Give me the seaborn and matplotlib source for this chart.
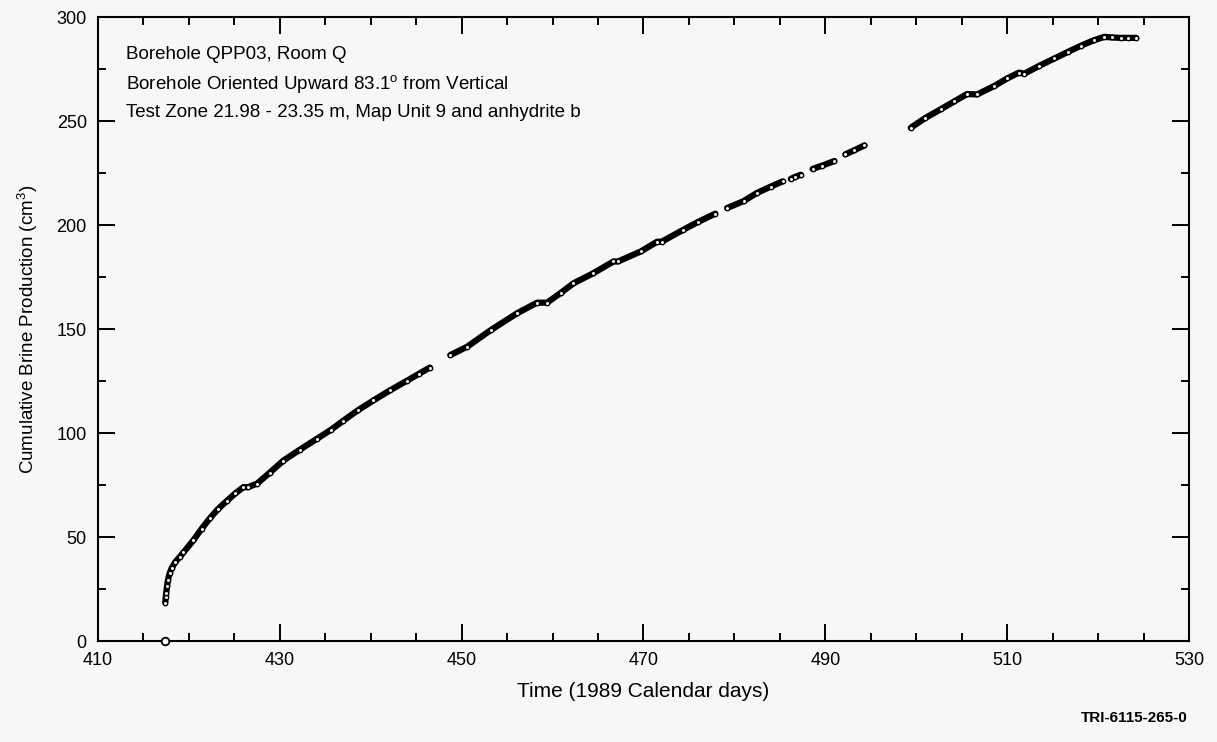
import numpy as np
import pandas as pd
import matplotlib
matplotlib.use("Agg")
import matplotlib.pyplot as plt
import seaborn as sns
from matplotlib.ticker import MultipleLocator

# Cumulative brine production, borehole QPP03 (day of 1989, cm^3), one list per logged run
seg1_day = [417.4, 417.45, 417.5, 417.6, 417.7, 417.9, 418.1, 418.5, 419.0, 419.4, 420.5, 421.4,
            422.3, 423.2, 424.2, 425.1, 426.0, 426.5, 427.5, 428.9, 430.4, 432.2, 434.1, 435.6,
            437.0, 438.6, 440.3, 442.1, 444.0, 445.3, 446.5]
seg1_cm3 = [18.5, 21.0, 23.0, 26.5, 29.5, 32.8, 35.0, 38.0, 40.5, 42.6, 48.5, 54.0,
            59.0, 63.5, 67.5, 71.0, 74.0, 74.0, 75.7, 81.0, 86.8, 92.0, 97.3, 101.5,
            106.0, 111.0, 115.7, 120.5, 125.2, 128.5, 131.5]

seg2_day = [448.75, 450.6, 453.2, 456.1, 458.3, 459.4, 460.9, 462.3, 464.5, 466.7, 467.2,
            469.7, 471.5, 472.0, 474.4, 476.0, 477.9]
seg2_cm3 = [137.5, 141.5, 149.5, 157.6, 162.7, 162.7, 167.4, 172.0, 176.9, 182.5, 182.5,
            187.3, 192.0, 192.0, 197.8, 201.5, 205.5]

seg3_day = [479.2, 481.0, 482.5, 484.0, 485.3]
seg3_cm3 = [208.2, 211.5, 215.5, 218.5, 221.0]

seg4_day = [486.2, 486.7, 487.3]
seg4_cm3 = [222.2, 223.2, 224.2]

seg5_day = [488.6, 489.6, 491.0]
seg5_cm3 = [227.0, 228.5, 230.8]

seg6_day = [492.2, 493.2, 494.3]
seg6_cm3 = [234.0, 236.0, 238.3]

seg7_day = [499.4, 501.0, 502.7, 504.2, 505.6, 506.7, 508.6, 510.0, 511.3, 511.9, 513.5,
            515.2, 516.7, 518.1, 519.5, 520.7, 521.5, 522.5, 523.3, 524.2]
seg7_cm3 = [246.8, 251.5, 255.7, 259.5, 263.0, 262.8, 266.9, 270.5, 273.3, 272.8, 276.5,
            280.1, 283.3, 286.2, 288.8, 290.5, 290.2, 290.0, 290.0, 290.0]

start_day = [417.4]
start_cm3 = [0.0]

x_ticks = [410, 430, 450, 470, 490, 510, 530]
y_ticks = [0, 50, 100, 150, 200, 250, 300]

runs = [(seg1_day, seg1_cm3), (seg2_day, seg2_cm3), (seg3_day, seg3_cm3), (seg4_day, seg4_cm3),
        (seg5_day, seg5_cm3), (seg6_day, seg6_cm3), (seg7_day, seg7_cm3)]
df = pd.concat(
    [pd.DataFrame({"day": d, "cm3": v, "run": i}) for i, (d, v) in enumerate(runs)],
    ignore_index=True,
)
df0 = pd.DataFrame({"day": start_day, "cm3": start_cm3})

sns.set_style("ticks")
plt.rcParams["font.family"] = ["Liberation Sans", "DejaVu Sans"]
plt.rcParams["mathtext.fontset"] = "custom"
plt.rcParams["mathtext.rm"] = "Liberation Sans"
plt.rcParams["mathtext.it"] = "Liberation Sans:italic"
plt.rcParams["text.color"] = "black"
plt.rcParams["axes.labelcolor"] = "black"

bg = "#f7f7f7"
fig = plt.figure(figsize=(12.17, 7.42), dpi=100, facecolor=bg)
ax = fig.add_axes([0.0805, 0.136, 0.8965, 0.841], facecolor=bg)

sns.lineplot(data=df, x="day", y="cm3", units="run", estimator=None, sort=False,
             color="black", linewidth=4.5, solid_capstyle="round", solid_joinstyle="round",
             ax=ax, legend=False)
sns.scatterplot(data=df, x="day", y="cm3", marker="o", s=10, facecolor="white",
                edgecolor="black", linewidth=1.0, ax=ax, legend=False, zorder=3)
sns.scatterplot(data=df0, x="day", y="cm3", marker="o", s=30, facecolor="white",
                edgecolor="black", linewidth=1.3, ax=ax, legend=False, zorder=3,
                clip_on=False)

ax.set_xlim(410, 530)
ax.set_ylim(0, 300)
ax.set_xticks(x_ticks)
ax.set_yticks(y_ticks)
ax.xaxis.set_minor_locator(MultipleLocator(5))
ax.yaxis.set_minor_locator(MultipleLocator(25))
ax.tick_params(which="both", direction="in", top=True, right=True, width=1.4,
               color="black", labelsize=13, labelcolor="black")
ax.tick_params(which="major", length=12, pad=8)
ax.tick_params(which="minor", length=6)
for s in ax.spines.values():
    s.set_visible(True)
    s.set_linewidth(1.5)
    s.set_color("black")

ax.set_xlabel("Time (1989 Calendar days)", fontsize=15, labelpad=9)
ax.set_ylabel("Cumulative Brine Production (cm$^3$)", fontsize=13.5, labelpad=12)

notes = [
    "Borehole QPP03, Room Q",
    "Borehole Oriented Upward 83.1$^\\mathrm{o}$ from Vertical",
    "Test Zone 21.98 - 23.35 m, Map Unit 9 and anhydrite b",
]
for i, t in enumerate(notes):
    ax.text(0.026, 0.94 - i * 0.0466, t, transform=ax.transAxes, fontsize=13.5,
            ha="left", va="center", color="black")

fig.text(0.932, 0.032, "TRI-6115-265-0", fontsize=11, fontweight="bold",
         ha="center", va="center", color="black")

fig.savefig("out.png", dpi=100, facecolor=bg)
